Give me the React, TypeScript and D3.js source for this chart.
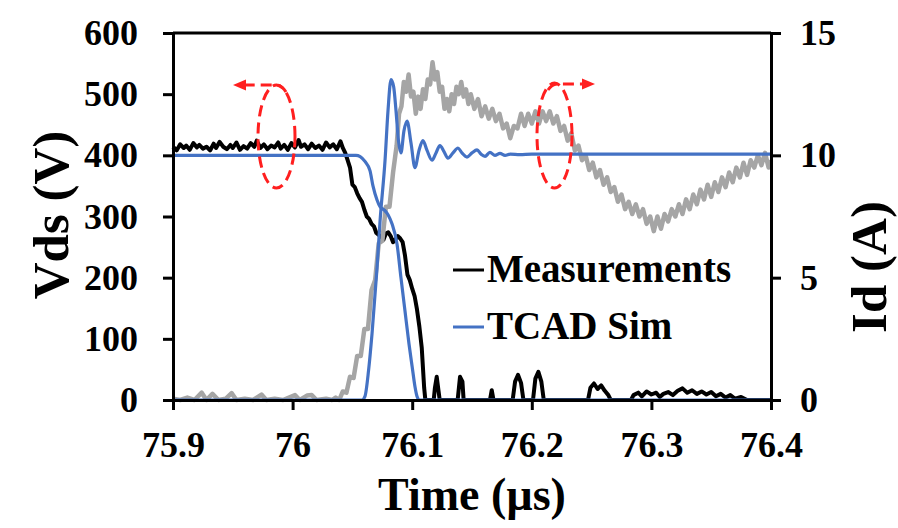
import React, { useEffect, useRef } from 'react';
import * as d3 from 'd3';

// Time axis (µs)
const timeTicks = [75.9, 76, 76.1, 76.2, 76.3, 76.4];
const vdsTicks = [0, 100, 200, 300, 400, 500, 600];
const idTicks = [0, 5, 10, 15];

// Measured Vds (V) – black
const measVds: [number, number][] = [
  [75.9, 414], [75.903, 408], [75.906, 418], [75.909, 412], [75.911, 416], [75.914, 409],
  [75.917, 420], [75.92, 413], [75.922, 417], [75.925, 411], [75.928, 414], [75.931, 408],
  [75.934, 419], [75.936, 412], [75.939, 422], [75.942, 414], [75.945, 410], [75.948, 417],
  [75.95, 412], [75.953, 421], [75.956, 409], [75.959, 415], [75.962, 411], [75.965, 420],
  [75.968, 414], [75.97, 424], [75.973, 412], [75.976, 418], [75.979, 410], [75.982, 416],
  [75.985, 413], [75.988, 421], [75.99, 411], [75.993, 417], [75.996, 409], [75.999, 420],
  [76.002, 413], [76.005, 425], [76.007, 414], [76.01, 418], [76.013, 410], [76.016, 419],
  [76.019, 412], [76.022, 416], [76.025, 409], [76.028, 421], [76.031, 413], [76.034, 418],
  [76.037, 410], [76.04, 423], [76.042, 412], [76.044, 404], [76.046, 392], [76.048, 380],
  [76.05, 352], [76.052, 348], [76.054, 338], [76.056, 330], [76.058, 324], [76.06, 311],
  [76.062, 300], [76.064, 296], [76.066, 288], [76.068, 284], [76.07, 273], [76.072, 270],
  [76.074, 267], [76.076, 262], [76.078, 272], [76.08, 274], [76.082, 268], [76.084, 258],
  [76.086, 263], [76.088, 268], [76.09, 264], [76.092, 258], [76.094, 236], [76.096, 205],
  [76.098, 196], [76.1, 182], [76.102, 170], [76.104, 148], [76.106, 120], [76.108, 85],
  [76.11, 20], [76.111, 0],
  [76.118, 0], [76.119, 20], [76.1205, 38], [76.122, 15], [76.123, 0],
  [76.138, 0], [76.14, 38], [76.142, 30], [76.143, 0],
  [76.165, 0], [76.1665, 16], [76.168, 0],
  [76.184, 0], [76.186, 30], [76.1885, 41], [76.191, 28], [76.193, 0],
  [76.201, 0], [76.203, 35], [76.2055, 46], [76.208, 30], [76.21, 0],
  [76.247, 0], [76.249, 20], [76.252, 27], [76.255, 18], [76.258, 24], [76.261, 15],
  [76.264, 8], [76.266, 0],
  [76.283, 0], [76.285, 8], [76.289, 12], [76.292, 6], [76.296, 14], [76.3, 9], [76.304, 12],
  [76.307, 5], [76.31, 10], [76.314, 13], [76.318, 8], [76.322, 15], [76.326, 19], [76.33, 12],
  [76.334, 16], [76.338, 10], [76.342, 14], [76.346, 9], [76.35, 13], [76.354, 6], [76.358, 10],
  [76.362, 4], [76.366, 8], [76.37, 2], [76.375, 5], [76.38, 0], [76.4, 0]
];

// Measured Id (A) – grey
const measId: [number, number][] = [
  [75.9, 0.05], [75.906, 0.0], [75.912, 0.1], [75.918, 0.0], [75.924, 0.3], [75.928, 0.0],
  [75.933, 0.25], [75.938, 0.0], [75.944, 0.05], [75.949, 0.28], [75.953, 0.0], [75.96, 0.05],
  [75.967, 0.0], [75.974, 0.22], [75.978, 0.0], [75.985, 0.05], [75.992, 0.0], [76.002, 0.2],
  [76.006, 0.0], [76.012, 0.18], [76.016, 0.2], [76.02, 0.0], [76.028, 0.05], [76.033, 0.0],
  [76.036, 0.1], [76.039, 0.0], [76.042, 0.35], [76.045, 0.3], [76.048, 0.95], [76.051, 0.9],
  [76.054, 1.8], [76.057, 1.8], [76.06, 2.9], [76.063, 2.9], [76.066, 4.5], [76.069, 4.9],
  [76.072, 6.4], [76.075, 6.5], [76.078, 7.9], [76.081, 7.9], [76.084, 9.3], [76.087, 10.4],
  [76.089, 11.7], [76.091, 12.0], [76.093, 13.0], [76.095, 12.6], [76.097, 13.3], [76.099, 12.4],
  [76.101, 12.6], [76.103, 11.7], [76.105, 12.4], [76.107, 11.9], [76.109, 12.7], [76.111, 12.3],
  [76.113, 13.1], [76.115, 12.9], [76.117, 13.8], [76.119, 13.1], [76.121, 13.4], [76.123, 12.6],
  [76.125, 12.8], [76.127, 11.9], [76.129, 12.3], [76.131, 11.8], [76.133, 12.5], [76.135, 12.1],
  [76.137, 12.8], [76.139, 12.5], [76.141, 13.0], [76.143, 12.4], [76.145, 12.7], [76.147, 12.1],
  [76.149, 12.5], [76.152, 11.9], [76.155, 12.3], [76.158, 11.6], [76.161, 12.0], [76.164, 11.5],
  [76.167, 11.9], [76.17, 11.4], [76.173, 11.7], [76.176, 11.1], [76.179, 11.3], [76.182, 10.7],
  [76.185, 11.2], [76.188, 11.1], [76.191, 11.7], [76.194, 11.2], [76.197, 11.7], [76.2, 11.3],
  [76.203, 11.8], [76.206, 11.3], [76.209, 11.8], [76.212, 11.4], [76.215, 11.8], [76.218, 11.3],
  [76.221, 11.6], [76.224, 11.0], [76.227, 11.2], [76.23, 10.6], [76.233, 10.9], [76.236, 10.2],
  [76.239, 10.4], [76.242, 9.8], [76.245, 10.0], [76.248, 9.4], [76.251, 9.7], [76.254, 9.1],
  [76.257, 9.4], [76.26, 8.8], [76.263, 9.1], [76.266, 8.5], [76.269, 8.7], [76.272, 8.1],
  [76.275, 8.4], [76.278, 7.8], [76.281, 8.1], [76.284, 7.6], [76.287, 8.0], [76.29, 7.5],
  [76.293, 7.8], [76.296, 7.2], [76.299, 7.5], [76.302, 6.9], [76.305, 7.5], [76.308, 7.0],
  [76.311, 7.6], [76.314, 7.3], [76.317, 7.8], [76.32, 7.5], [76.323, 8.0], [76.326, 7.6],
  [76.329, 8.2], [76.332, 7.8], [76.335, 8.4], [76.338, 8.0], [76.341, 8.6], [76.344, 8.2],
  [76.347, 8.8], [76.35, 8.3], [76.353, 8.9], [76.356, 8.5], [76.359, 9.1], [76.362, 8.7],
  [76.365, 9.3], [76.368, 8.9], [76.371, 9.5], [76.374, 9.1], [76.377, 9.7], [76.38, 9.2],
  [76.383, 9.8], [76.386, 9.5], [76.389, 10.0], [76.392, 9.6], [76.395, 10.1], [76.398, 9.5],
  [76.4, 9.8]
];

// TCAD simulated Vds (V) – blue, left axis
const simVds: [number, number][] = [
  [75.9, 400], [76.053, 400], [76.0565, 398], [76.0605, 390], [76.0647, 375], [76.0672, 350],
  [76.0706, 327], [76.0731, 316], [76.0764, 311], [76.0798, 303], [76.0831, 288], [76.0873, 255],
  [76.0906, 200], [76.094, 145], [76.0973, 92], [76.1, 54], [76.1023, 22], [76.104, 6],
  [76.106, 0], [76.4, 0]
];

// TCAD simulated Id (A) – blue, right axis
const simId: [number, number][] = [
  [75.9, 0], [76.058, 0], [76.0605, 0.15], [76.0635, 1.2], [76.0664, 2.7], [76.0706, 5.4],
  [76.0731, 7.3], [76.0773, 9.8], [76.0798, 11.85], [76.0823, 13.1], [76.0845, 12.8],
  [76.0865, 11.8], [76.0885, 10.6], [76.0906, 10.1], [76.0931, 11.0], [76.0957, 11.4],
  [76.099, 10.5], [76.1023, 9.5], [76.1057, 10.2], [76.109, 10.6], [76.1124, 10.2],
  [76.1166, 9.8], [76.1199, 10.1], [76.1232, 10.4], [76.1266, 10.15], [76.1299, 9.88],
  [76.1341, 10.1], [76.1383, 10.3], [76.1416, 10.1], [76.1458, 9.93], [76.15, 10.1],
  [76.1542, 10.22], [76.1575, 10.05], [76.1609, 9.96], [76.165, 10.12], [76.1692, 10.0],
  [76.1734, 10.08], [76.1776, 10.0], [76.182, 10.05], [76.19, 10.03], [76.2, 10.05], [76.4, 10.05]
];

const legendItems = [
  { name: 'Measurements', color: '#000000' },
  { name: 'TCAD Sim', color: '#4472C4' }
];

const width = 898;
const height = 528;
const margin = { top: 33, right: 127, bottom: 128, left: 173 };
const font = '"Liberation Serif", "Times New Roman", serif';

function App() {
  const ref = useRef<SVGSVGElement>(null);

  useEffect(() => {
    const svg = d3.select(ref.current);
    svg.selectAll('*').remove();

    const x = d3.scaleLinear().domain([75.9, 76.4]).range([margin.left, width - margin.right]);
    const yL = d3.scaleLinear().domain([0, 600]).range([height - margin.bottom, margin.top]);
    const yR = d3.scaleLinear().domain([0, 15]).range([height - margin.bottom, margin.top]);

    const lineL = d3.line<[number, number]>().x(d => x(d[0])).y(d => yL(d[1]));
    const lineR = d3.line<[number, number]>().x(d => x(d[0])).y(d => yR(d[1]));

    // measured curves
    svg.append('path').attr('d', lineL(measVds)).attr('fill', 'none')
      .attr('stroke', '#000').attr('stroke-width', 4).attr('stroke-linejoin', 'round');
    svg.append('path').attr('d', lineR(measId)).attr('fill', 'none')
      .attr('stroke', '#A5A5A5').attr('stroke-width', 4.5).attr('stroke-linejoin', 'round');

    // simulated curves
    svg.append('path').attr('d', lineL.curve(d3.curveMonotoneX)(simVds)).attr('fill', 'none')
      .attr('stroke', '#4472C4').attr('stroke-width', 3.2);
    svg.append('path').attr('d', lineR.curve(d3.curveMonotoneX)(simId)).attr('fill', 'none')
      .attr('stroke', '#4472C4').attr('stroke-width', 3.2);

    // frame top line
    svg.append('line')
      .attr('x1', margin.left).attr('x2', width - margin.right)
      .attr('y1', margin.top).attr('y2', margin.top)
      .attr('stroke', '#000').attr('stroke-width', 3);

    const styleAxis = (g: any) => {
      g.select('.domain').attr('stroke', '#000').attr('stroke-width', 3);
      g.selectAll('.tick line').attr('stroke', '#000').attr('stroke-width', 3);
      g.selectAll('.tick text')
        .attr('fill', '#000')
        .style('font-family', font)
        .style('font-weight', 'bold')
        .style('font-size', '36px');
    };

    svg.append('g')
      .attr('transform', `translate(0,${height - margin.bottom})`)
      .call(d3.axisBottom(x).tickValues(timeTicks).tickSize(10).tickSizeOuter(0).tickPadding(21)
        .tickFormat(d => String(d)))
      .call(styleAxis);

    svg.append('g')
      .attr('transform', `translate(${margin.left},0)`)
      .call(d3.axisLeft(yL).tickValues(vdsTicks).tickSize(10).tickSizeOuter(0).tickPadding(25))
      .call(styleAxis);

    svg.append('g')
      .attr('transform', `translate(${width - margin.right},0)`)
      .call(d3.axisRight(yR).tickValues(idTicks).tickSize(10).tickSizeOuter(0).tickPadding(19))
      .call(styleAxis);

    // axis titles
    const title = (sel: any, size: number) => sel
      .attr('text-anchor', 'middle')
      .attr('fill', '#000')
      .style('font-family', font)
      .style('font-weight', 'bold')
      .style('font-size', `${size}px`);

    svg.append('text').text('Time (µs)')
      .attr('x', (margin.left + width - margin.right) / 2).attr('y', 510).call(title, 46);
    svg.append('text').text('Vds (V)')
      .attr('transform', 'translate(68,215) rotate(-90)').call(title, 51);
    svg.append('text').text('Id (A)')
      .attr('transform', 'translate(886,267) rotate(-90)').call(title, 51);

    // legend
    const legend = svg.append('g');
    legendItems.forEach((item, i) => {
      const ly = 270 + i * 57;
      legend.append('line')
        .attr('x1', 453).attr('x2', 484).attr('y1', ly).attr('y2', ly)
        .attr('stroke', item.color).attr('stroke-width', 3);
      legend.append('text').text(item.name)
        .attr('x', 487).attr('y', ly + 12)
        .attr('fill', '#000')
        .style('font-family', font)
        .style('font-weight', 'bold')
        .style('font-size', '39px');
    });

    // red dashed ellipses with arrows
    const red = '#FF1F1F';
    const ann = svg.append('g').attr('fill', 'none').attr('stroke', red)
      .attr('stroke-width', 3).attr('stroke-dasharray', '11,6');
    ann.append('ellipse').attr('cx', 276.5).attr('cy', 136.5).attr('rx', 18.5).attr('ry', 51.5);
    ann.append('ellipse').attr('cx', 554.5).attr('cy', 135.5).attr('rx', 17.5).attr('ry', 52.5);
    ann.append('path').attr('d', 'M286,92 Q282,85 276,85 L244,85');
    ann.append('path').attr('d', 'M548,90 Q552,84 558,84 L585,84');
    svg.append('polygon').attr('points', '233,85 246,79.5 246,90.5').attr('fill', red);
    svg.append('polygon').attr('points', '595,84 582,78.5 582,89.5').attr('fill', red);
  }, []);

  return (
    <svg ref={ref} width={width} height={height}
      style={{ position: 'absolute', left: 0, top: 0, background: '#fff' }} />
  );
}

export default App;
